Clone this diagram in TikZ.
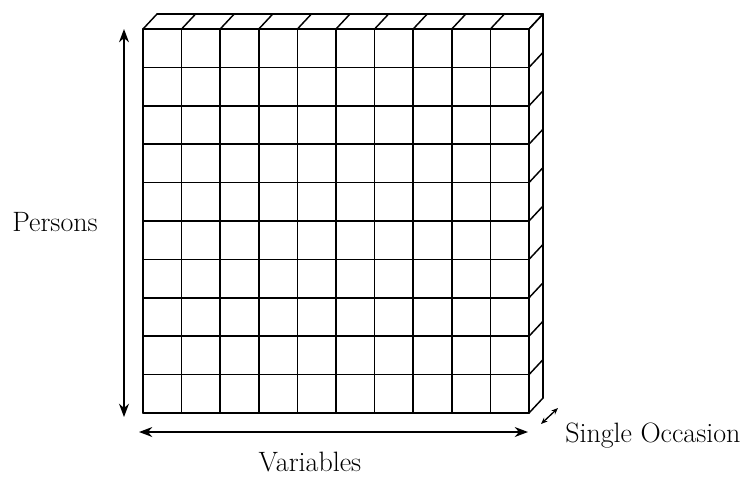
\documentclass[tikz,border=0pt]{standalone}
\usetikzlibrary{arrows.meta}
\begin{document}
\begin{tikzpicture}[x=0.75pt,y=-0.75pt,
  gridline/.style={line width=1.1pt, line cap=round, line join=round},
  axisarrow/.style={line width=1.1pt, {Stealth[length=10pt,width=7.5pt]}-{Stealth[length=10pt,width=7.5pt]}},
  smallarrow/.style={line width=1pt, {Stealth[length=5pt,width=4pt]}-{Stealth[length=5pt,width=4pt]}},
  lbl/.style={font=\fontsize{21}{25}\selectfont, inner sep=0pt}]
\useasboundingbox (0,0) rectangle (746,476);
% front face
\foreach \i in {0,...,10}{
  \pgfmathsetmacro\xx{143+38.6*\i}
  \pgfmathsetmacro\yy{29+38.4*\i}
  \draw[gridline] (\xx,29) -- (\xx,413);
  \draw[gridline] (143,\yy) -- (529,\yy);
  % top face
  \draw[gridline] (\xx,29) -- ({\xx+14},14);
  % right face
  \draw[gridline] (529,\yy) -- (543,{\yy-15});
}
\draw[gridline] (157,14) -- (543,14) -- (543,398);
% axis coordinates
\coordinate (pTop) at (124,29);
\coordinate (pBot) at (124,417);
\coordinate (vL) at (139,432);
\coordinate (vR) at (528,432);
\coordinate (oA) at (541,424);
\coordinate (oB) at (558,408);
\draw[axisarrow] (pBot) -- (pTop);
\draw[axisarrow] (vL) -- (vR);
\draw[smallarrow] (oA) -- (oB);
\node[lbl] (persons) at (55,222) {Persons};
\node[lbl] (variables) at (310,462) {Variables};
\node[lbl, anchor=west] (occasion) at (565,436) {Single Occasion};
\end{tikzpicture}
\end{document}
